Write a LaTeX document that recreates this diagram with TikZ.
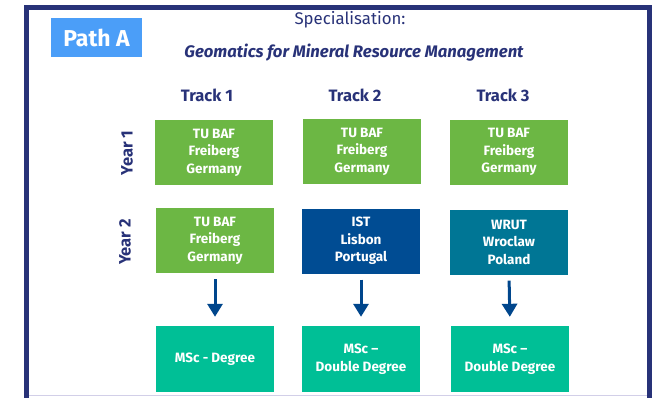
\documentclass[tikz,border=0pt]{standalone}
\usepackage{fontspec}
\setmainfont{Fira Sans}
\usetikzlibrary{arrows.meta}
\definecolor{navy}{HTML}{283278}
\definecolor{boxgreen}{HTML}{6CB744}
\definecolor{istblue}{HTML}{004C93}
\definecolor{wrut}{HTML}{007695}
\definecolor{mint}{HTML}{00BF96}
\definecolor{patha}{HTML}{4B9EF8}
\definecolor{lav}{HTML}{D2CFE8}
\definecolor{arrblue}{HTML}{00468C}
\tikzset{
  uni/.style={minimum width=118pt, minimum height=65pt, inner sep=0pt, text=white,
    align=center, font=\fontsize{13.5}{17.5}\selectfont\bfseries},
  greenbox/.style={uni, fill=boxgreen},
  istbox/.style={uni, fill=istblue},
  wrutbox/.style={uni, fill=wrut},
  degbox/.style={uni, fill=mint, minimum height=66pt},
  tracklbl/.style={text=navy, font=\fontsize{16.5}{18}\selectfont\bfseries, anchor=base},
  yearlbl/.style={text=navy, font=\fontsize{16.5}{18}\selectfont\bfseries, rotate=90},
  arr/.style={draw=arrblue, line width=3pt, -{Triangle[width=15pt,length=13pt]},
    shorten <=6pt, shorten >=9pt}
}
\begin{document}
\begin{tikzpicture}[x=1pt,y=-1pt]
\useasboundingbox (0,0) rectangle (652,397);
\begin{scope}
\clip (0,0) rectangle (652,397);
\draw[lav, line width=1.2pt] (29,395.6) -- (647,395.6);
\draw[navy, line width=5pt] (26.7,400) -- (26.7,7) -- (649.4,7) -- (649.4,400);
\end{scope}
% header
\node[fill=patha, minimum width=91pt, minimum height=39pt, inner sep=0pt] (pa) at (96.5,37.5) {};
\node[text=white, font=\fontsize{23}{24}\selectfont\bfseries, anchor=base] (patxt) at (96.5,46) {Path A};
\node[text=navy, font=\fontsize{16.8}{18}\selectfont, anchor=base] (spec) at (350,24) {Specialisation:};
\node[text=navy, font=\fontsize{16.7}{18}\selectfont\bfseries\itshape, anchor=base] (geo) at (354,57.3) {Geomatics for Mineral Resource Management};
% tracks
\node[tracklbl] (t1) at (207,101.7) {Track 1};
\node[tracklbl] (t2) at (355,101.5) {Track 2};
\node[tracklbl] (t3) at (503,101.5) {Track 3};
% years
\node[yearlbl] (y1) at (127,153) {Year 1};
\node[yearlbl] (y2) at (125,242) {Year 2};
% row 1
\node[greenbox] (b11) at (214,152.5) {TU BAF\\Freiberg\\Germany};
\node[greenbox] (b12) at (362,151.5) {TU BAF\\Freiberg\\Germany};
\node[greenbox] (b13) at (509,152) {TU BAF\\Freiberg\\Germany};
% row 2
\node[greenbox] (b21) at (215,240.5) {TU BAF\\Freiberg\\Germany};
\node[istbox] (b22) at (361,241) {IST\\Lisbon\\Portugal};
\node[wrutbox] (b23) at (509,242) {WRUT\\Wroclaw\\Poland};
% row 3
\node[degbox] (b31) at (215,359) {MSc - Degree};
\node[degbox] (b32) at (361,359) {MSc --\\Double Degree};
\node[degbox] (b33) at (510,359) {MSc --\\Double Degree};
% arrows
\draw[arr] (b21.south) -- (b31.north);
\draw[arr] (b22.south) -- (b32.north);
\draw[arr] (b23.south) -- (b33.north);
\end{tikzpicture}
\end{document}
